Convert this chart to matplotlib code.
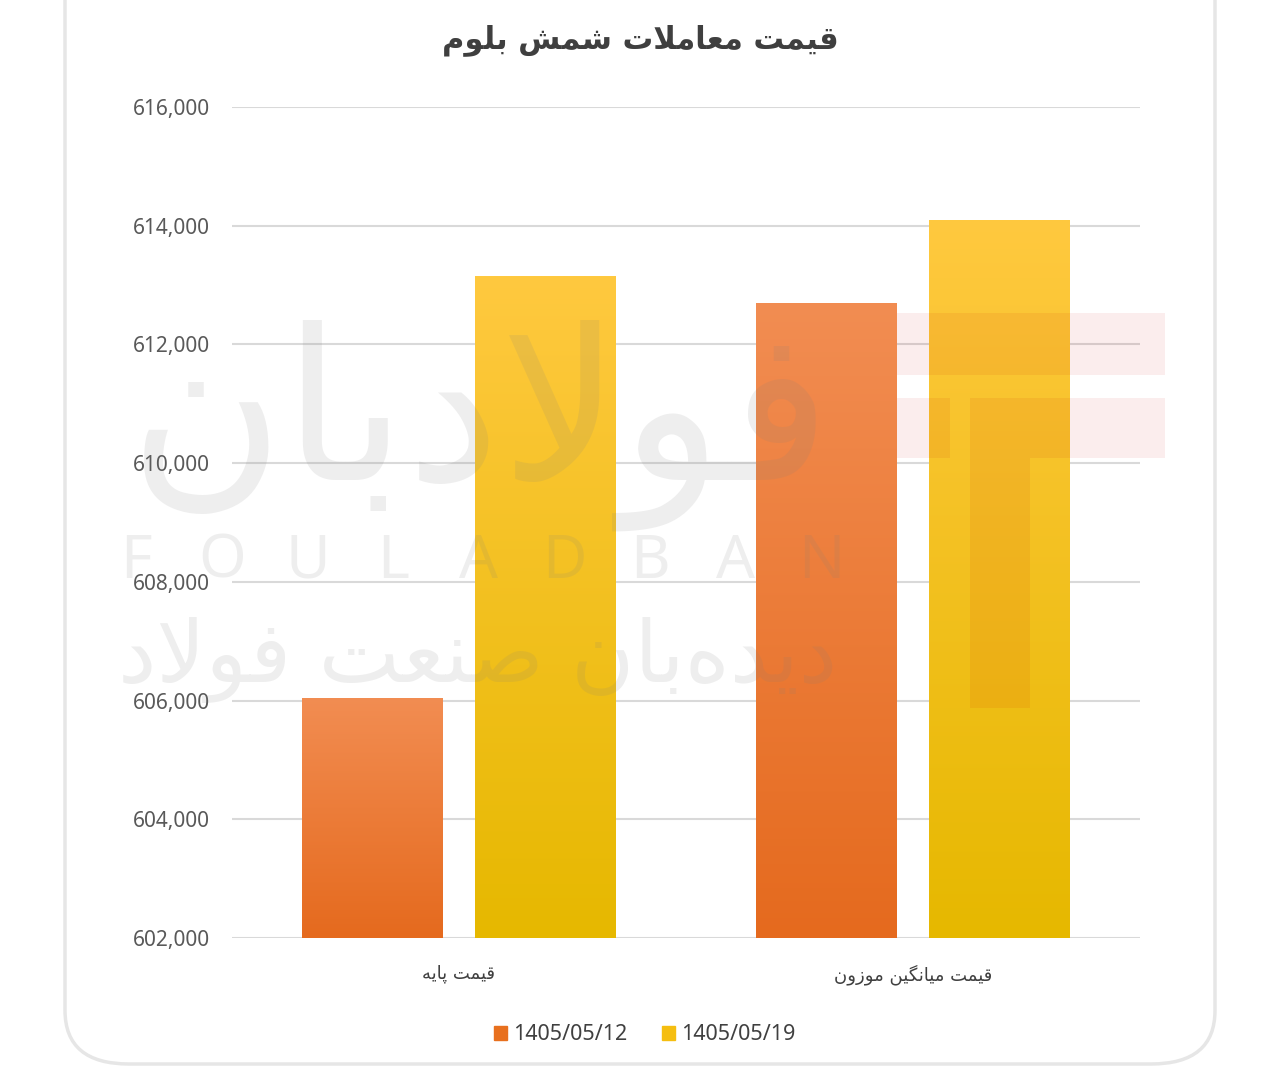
import numpy as np
import matplotlib.pyplot as plt
from matplotlib.patches import FancyBboxPatch, Rectangle
from matplotlib.colors import LinearSegmentedColormap

# ======================
# data
# ======================
title = "قیمت معاملات شمش بلوم"
categories = ["قیمت پایه", "قیمت میانگین موزون"]
series_names = ["1405/05/12", "1405/05/19"]
values_0512 = [606050, 612700]
values_0519 = [613150, 614100]
y_ticks = [602000, 604000, 606000, 608000, 610000, 612000, 614000, 616000]

wm_logo = "فولادبان"
wm_latin = "FOULADBAN"
wm_slogan = "دیده\u200cبان صنعت فولاد"


# ======================
# simple Persian shaping (matplotlib has no text shaping)
# ======================
FORMS = {
    "ا": ("\uFE8D", "\uFE8E", None, None),
    "ب": ("\uFE8F", "\uFE90", "\uFE91", "\uFE92"),
    "پ": ("\uFB56", "\uFB57", "\uFB58", "\uFB59"),
    "ت": ("\uFE95", "\uFE96", "\uFE97", "\uFE98"),
    "د": ("\uFEA9", "\uFEAA", None, None),
    "ز": ("\uFEAF", "\uFEB0", None, None),
    "ش": ("\uFEB5", "\uFEB6", "\uFEB7", "\uFEB8"),
    "ص": ("\uFEB9", "\uFEBA", "\uFEBB", "\uFEBC"),
    "ع": ("\uFEC9", "\uFECA", "\uFECB", "\uFECC"),
    "ف": ("\uFED1", "\uFED2", "\uFED3", "\uFED4"),
    "ق": ("\uFED5", "\uFED6", "\uFED7", "\uFED8"),
    "گ": ("\uFB92", "\uFB93", "\uFB94", "\uFB95"),
    "ل": ("\uFEDD", "\uFEDE", "\uFEDF", "\uFEE0"),
    "م": ("\uFEE1", "\uFEE2", "\uFEE3", "\uFEE4"),
    "ن": ("\uFEE5", "\uFEE6", "\uFEE7", "\uFEE8"),
    "ه": ("\uFEE9", "\uFEEA", "\uFEEB", "\uFEEC"),
    "و": ("\uFEED", "\uFEEE", None, None),
    "ی": ("\uFBFC", "\uFBFD", "\uFBFE", "\uFBFF"),
}


def fa(text):
    chars = list(text)
    out = []
    for i, c in enumerate(chars):
        if c not in FORMS:
            out.append(c)
            continue
        prev = chars[i - 1] if i > 0 else None
        nxt = chars[i + 1] if i + 1 < len(chars) else None
        join_prev = prev in FORMS and FORMS[prev][2] is not None
        join_next = nxt in FORMS and FORMS[c][2] is not None
        iso, fin, ini, med = FORMS[c]
        if join_prev and join_next:
            out.append(med)
        elif join_prev:
            out.append(fin)
        elif join_next:
            out.append(ini)
        else:
            out.append(iso)
    s = "".join(out).replace("\u200c", "")
    # lam-alef ligatures
    s = s.replace("\uFEDF\uFE8E", "\uFEFB").replace("\uFEE0\uFE8E", "\uFEFC")
    return s[::-1]


# ======================
# figure
# ======================
W, H = 1280, 1072
fig = plt.figure(figsize=(W / 100, H / 100), dpi=100)
fig.patch.set_facecolor("white")

# card frame
card = FancyBboxPatch((65 / W, 8 / H), 1150 / W, 1.2, transform=fig.transFigure,
                      boxstyle="round,pad=0,rounding_size=0.05",
                      facecolor="white", edgecolor="#E6E6E6", lw=2.5, zorder=-2)
fig.patches.append(card)

ax = fig.add_axes([232 / W, 1 - 938 / H, 908 / W, 831 / H])
ax.set_facecolor("none")

x = np.arange(len(categories))
width = 0.31
offset = 0.19

cmap_orange = LinearSegmentedColormap.from_list("o", ["#E56A1E", "#F28D52"])
cmap_yellow = LinearSegmentedColormap.from_list("y", ["#E6B800", "#FFC93F"])

bars1 = ax.bar(x - offset, values_0512, width, color="#EC7A32", zorder=2, label=series_names[0])
bars2 = ax.bar(x + offset, values_0519, width, color="#F7C21A", zorder=2, label=series_names[1])

# gradient fill clipped to each bar
grad = np.linspace(0, 1, 256).reshape(-1, 1)
for bars, cmap in [(bars1, cmap_orange), (bars2, cmap_yellow)]:
    for b in bars:
        x0, w = b.get_x(), b.get_width()
        top = b.get_height() + b.get_y()
        im = ax.imshow(grad, cmap=cmap, origin="lower", aspect="auto",
                       extent=[x0, x0 + w, 602000, top], zorder=3)
        im.set_clip_path(b)

ax.set_xlim(-0.5, 1.5)
ax.set_ylim(602000, 616000)
ax.set_yticks(y_ticks)
ax.set_yticklabels([f"{v:,}" for v in y_ticks], family="Noto Sans", fontsize=15, color="#595959")
ax.set_xticks(x)
ax.set_xticklabels([fa(c) for c in categories], family="DejaVu Sans", fontsize=13, color="#404040")
ax.tick_params(axis="both", length=0)
ax.tick_params(axis="y", pad=16)
ax.tick_params(axis="x", pad=19)

for s in ax.spines.values():
    s.set_visible(False)
ax.grid(axis="y", color="#D9D9D9", lw=1.5, zorder=1)
ax.set_axisbelow(True)

fig.text(640 / W, 1 - 40 / H, fa(title), ha="center", va="center",
         fontsize=22, fontweight="bold", color="#3F3F3F", family="DejaVu Sans")

handles = [Rectangle((0, 0), 1, 1, color="#E8701E"), Rectangle((0, 0), 1, 1, color="#F5BE10")]
fig.legend(handles, series_names, loc="center", bbox_to_anchor=(645 / W, 1 - 1035 / H),
           ncol=2, frameon=False, handlelength=0.6, handleheight=0.6, handletextpad=0.3,
           columnspacing=1.6, prop={"family": "Noto Sans", "size": 15.5}, labelcolor="#404040")

# ======================
# watermark (semi-transparent, on top)
# ======================
wm_kw = dict(color="#7F7F7F", alpha=0.13, zorder=10, ha="center", va="center")
fig.text(480 / W, 1 - 425 / H, fa(wm_logo), fontsize=152, family="DejaVu Sans", **wm_kw)
for i, ch in enumerate(wm_latin):
    fig.text((136 + i * 85.7) / W, 1 - 562 / H, ch, fontsize=44, family="Noto Sans", **wm_kw)
fig.text(478 / W, 1 - 660 / H, fa(wm_slogan), fontsize=62, family="DejaVu Sans", **wm_kw)

for (x0, y0, x1, y1) in [(897, 313, 1165, 375), (897, 398, 950, 458),
                         (970, 398, 1165, 458), (970, 458, 1030, 708)]:
    fig.patches.append(Rectangle((x0 / W, 1 - y1 / H), (x1 - x0) / W, (y1 - y0) / H,
                                 transform=fig.transFigure, facecolor="#C80000",
                                 alpha=0.07, edgecolor="none", zorder=10))

plt.savefig("out.png", dpi=100, facecolor="white")
